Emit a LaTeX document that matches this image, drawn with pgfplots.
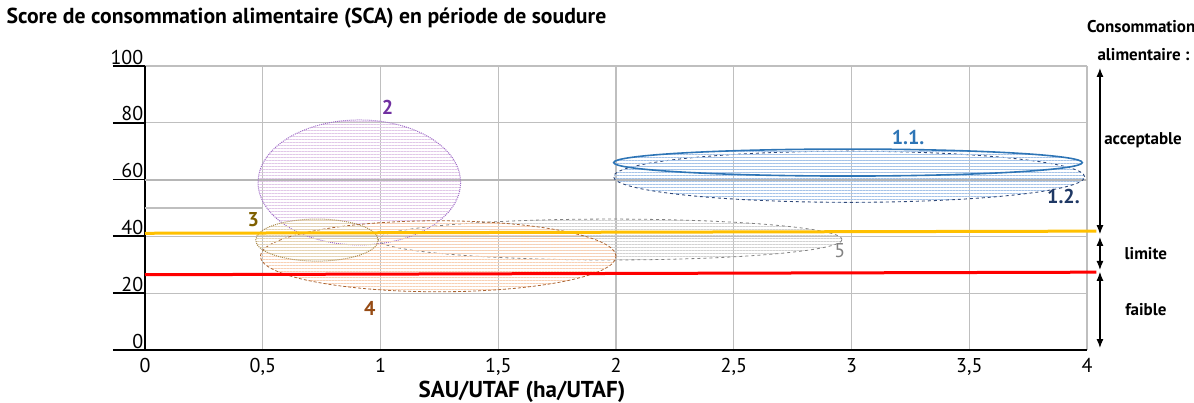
\documentclass[border=0pt]{standalone}
\usepackage{fontspec}
\setmainfont{PT Sans}
\usepackage{pgfplots}
\pgfplotsset{compat=1.18}
\usetikzlibrary{patterns.meta,arrows.meta}
\definecolor{gridgray}{RGB}{191,191,191}
\definecolor{purpL}{RGB}{160,110,200}
\definecolor{purpH}{RGB}{225,200,232}
\definecolor{purpT}{RGB}{112,48,160}
\definecolor{blueL}{RGB}{46,117,182}
\definecolor{blueH}{RGB}{165,195,232}
\definecolor{navyL}{RGB}{47,72,120}
\definecolor{navyT}{RGB}{31,56,100}
\definecolor{oliveL}{RGB}{170,140,80}
\definecolor{oliveH}{RGB}{228,212,180}
\definecolor{oliveT}{RGB}{127,96,0}
\definecolor{brownL}{RGB}{170,100,50}
\definecolor{brownH}{RGB}{248,208,180}
\definecolor{brownT}{RGB}{150,75,20}
\definecolor{grayL}{RGB}{130,130,130}
\definecolor{grayH}{RGB}{210,210,210}
\definecolor{lineOrange}{RGB}{255,192,0}
\definecolor{lineRed}{RGB}{255,0,0}

\tikzset{hatch/.style={pattern={Lines[angle=0,distance=3pt,line width=0.8pt]}, pattern color=#1}}

\begin{document}
\begin{tikzpicture}[font=\fontsize{20}{23}\selectfont]
\begin{axis}[
  at={(0pt,0pt)}, anchor=south west,
  scale only axis, width=942pt, height=284pt,
  xmin=0, xmax=4, ymin=0, ymax=100,
  xtick={0,0.5,...,4}, ytick={0,20,...,100},
  axis lines=left, axis line style={-, black, line width=2.4pt},
  grid=major, grid style={gridgray, line width=1.3pt},
  tick align=inside, major tick length=32pt,
  x tick style={draw=none},
  y tick style={black, line width=1.8pt, xshift=-32pt},
  tick label style={font=\fontsize{20}{23}\selectfont},
  yticklabel style={anchor=south east, inner sep=1.5pt},
  xticklabel style={yshift=-5pt},
  /pgf/number format/.cd, use comma, assume math mode=true,
  /pgfplots/.cd,
  clip=false,
]
% partial gray line at 50, heavier grid at 60
\draw[gridgray, line width=1.3pt] (axis cs:0,50) -- (axis cs:0.5,50);
\draw[gridgray!95!black, line width=2pt] (axis cs:0,60) -- (axis cs:4,60);

% group 2
\path[hatch=purpH] (axis cs:0.91,59) ellipse [x radius=0.43, y radius=22];
\draw[purpL, densely dotted, line width=1pt] (axis cs:0.91,59) ellipse [x radius=0.43, y radius=22];
% group 1.2
\path[hatch=blueH] (axis cs:2.99,61) ellipse [x radius=1.0, y radius=9];
\draw[navyL, dashed, line width=0.9pt] (axis cs:2.99,61) ellipse [x radius=1.0, y radius=9];
% group 1.1
\path[hatch=blueH] (axis cs:2.985,66) ellipse [x radius=0.995, y radius=4.75];
\draw[blueL, line width=1.6pt] (axis cs:2.985,66) ellipse [x radius=0.995, y radius=4.75];
% group 5
\path[hatch=grayH] (axis cs:1.975,38.9) ellipse [x radius=0.985, y radius=7.2];
\draw[grayL, dashed, line width=0.8pt] (axis cs:1.975,38.9) ellipse [x radius=0.985, y radius=7.2];
% group 4
\path[hatch=brownH] (axis cs:1.245,33) ellipse [x radius=0.755, y radius=12.5];
\draw[brownL, densely dashed, line width=0.8pt] (axis cs:1.245,33) ellipse [x radius=0.755, y radius=12.5];
% group 3
\path[hatch=oliveH] (axis cs:0.73,38.7) ellipse [x radius=0.26, y radius=7.4];
\draw[oliveL, densely dotted, line width=1pt] (axis cs:0.73,38.7) ellipse [x radius=0.26, y radius=7.4];

% thresholds
\addplot[lineOrange, line width=3pt] coordinates {(0,41.1) (4.04,41.85)};
\addplot[lineRed, line width=3pt] coordinates {(0,26.5) (4.04,27.4)};

% group labels
\node[purpT, font=\fontsize{20}{23}\selectfont\bfseries] at (axis cs:1.03,85.6) {2};
\node[blueL, font=\fontsize{20}{23}\selectfont\bfseries] at (axis cs:3.24,75) {1.1.};
\node[navyT, font=\fontsize{20}{23}\selectfont\bfseries] at (axis cs:3.9,54) {1.2.};
\node[oliveT, font=\fontsize{20}{23}\selectfont\bfseries] at (axis cs:0.46,46) {3};
\node[brownT, font=\fontsize{20}{23}\selectfont\bfseries] at (axis cs:0.955,14.8) {4};
\node[grayL, font=\fontsize{20}{23}\selectfont] at (axis cs:2.95,35) {5};

% right-hand scale
\draw[{Latex[length=9pt,width=7pt]}-{Latex[length=9pt,width=7pt]}, line width=1.1pt]
  (axis cs:4.055,99.3) -- (axis cs:4.055,40.8);
\draw[{Latex[length=9pt,width=7pt]}-{Latex[length=9pt,width=7pt]}, line width=1.1pt]
  (axis cs:4.055,39.8) -- (axis cs:4.055,28.2);
\draw[{Latex[length=9pt,width=7pt]}-{Latex[length=9pt,width=7pt]}, line width=1.1pt]
  (axis cs:4.055,27.5) -- (axis cs:4.055,0.7);
\node[font=\fontsize{17}{20}\selectfont\bfseries] at (axis cs:4.23,114) {Consommation};
\node[font=\fontsize{17}{20}\selectfont\bfseries] at (axis cs:4.24,103.9) {alimentaire :};
\node[font=\fontsize{17}{20}\selectfont\bfseries] at (axis cs:4.238,73.9) {acceptable};
\node[font=\fontsize{17}{20}\selectfont\bfseries] at (axis cs:4.25,33.8) {limite};
\node[font=\fontsize{17}{20}\selectfont\bfseries] at (axis cs:4.25,14.4) {faible};
\end{axis}
\node[anchor=west, font=\fontsize{21.7}{24}\selectfont\bfseries] at (-142pt,332pt)
  {Score de consommation alimentaire (SCA) en période de soudure};
\node[font=\fontsize{23}{26}\selectfont\bfseries] at (377pt,-42pt) {SAU/UTAF (ha/UTAF)};
\pgfresetboundingbox
\path[use as bounding box] (-145pt,-53pt) rectangle (1049pt,350pt);
\end{tikzpicture}
\end{document}
